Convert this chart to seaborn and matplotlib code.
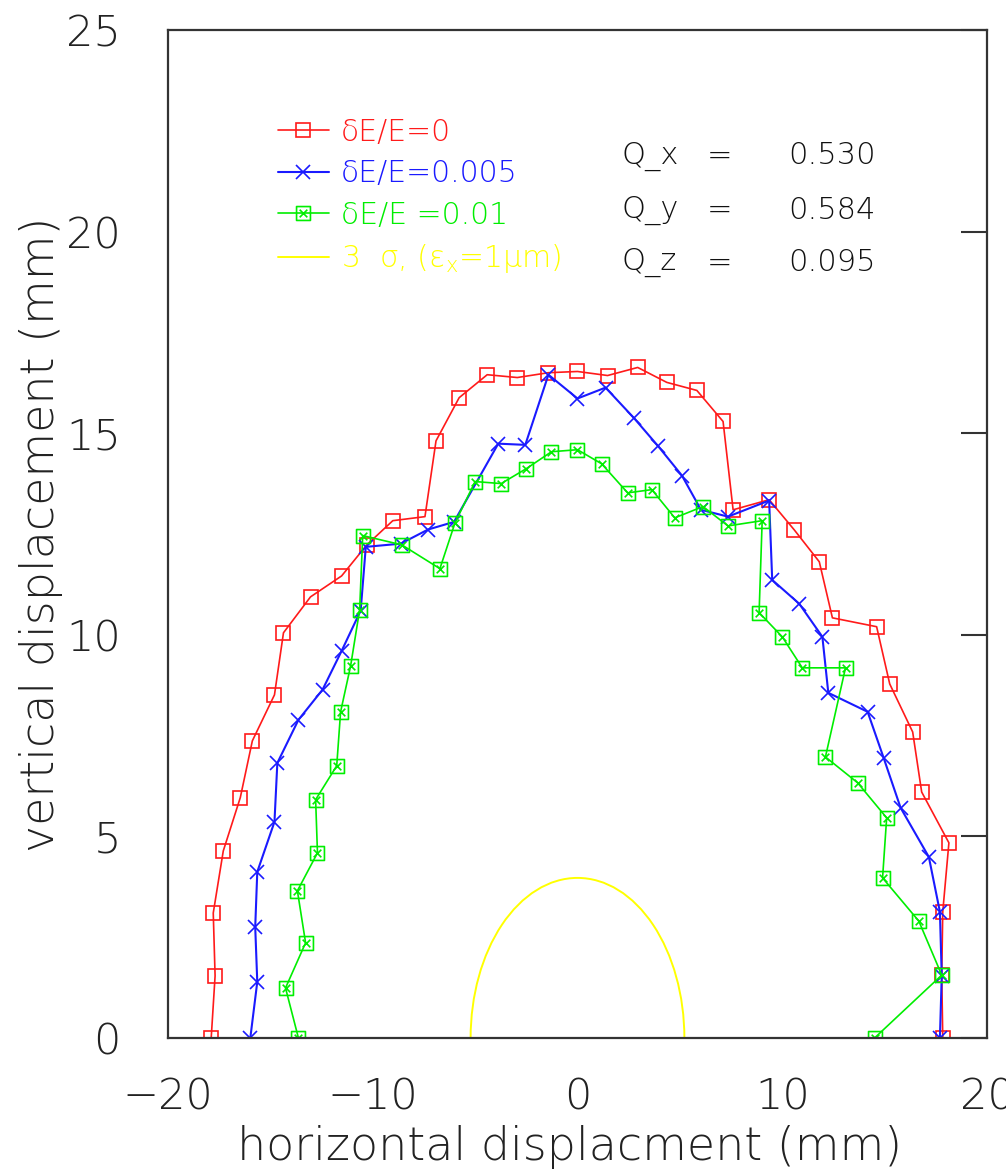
import numpy as np
import pandas as pd
import matplotlib
matplotlib.use("Agg")
import matplotlib.pyplot as plt
import seaborn as sns
from matplotlib.path import Path
from matplotlib.patches import Arc
from matplotlib.lines import Line2D

# ---------------- data (mm) ----------------
red_x = [-17.89, -17.70, -17.79, -17.30, -16.47, -15.88, -14.80, -14.36, -13.04, -11.52,
         -10.29, -9.02, -7.45, -6.91, -5.78, -4.41, -2.94, -1.42, 0.00, 1.47,
         2.94, 4.36, 5.83, 7.11, 7.60, 9.36, 10.59, 11.81, 12.45, 14.61,
         15.25, 16.37, 16.81, 18.14, 17.84, 17.79, 17.84]
red_y = [0.00, 1.54, 3.10, 4.64, 5.96, 7.37, 8.51, 10.05, 10.94, 11.46,
         12.23, 12.83, 12.93, 14.81, 15.88, 16.45, 16.38, 16.50, 16.53, 16.43,
         16.63, 16.26, 16.06, 15.29, 13.10, 13.35, 12.60, 11.81, 10.42, 10.20,
         8.78, 7.59, 6.10, 4.84, 3.13, 1.56, 0.00]

blue_x = [-15.98, -15.64, -15.74, -15.64, -14.80, -14.66, -13.63, -12.45, -11.52, -10.59,
          -10.34, -8.63, -7.30, -6.03, -3.87, -2.55, -1.42, 0.00, 1.37, 2.75,
          3.92, 5.10, 6.03, 7.35, 9.36, 9.51, 10.83, 11.96, 12.25, 14.17,
          14.95, 15.78, 17.16, 17.70, 17.79, 17.70]
blue_y = [0.00, 1.39, 2.75, 4.12, 5.36, 6.82, 7.89, 8.64, 9.60, 10.60,
          12.18, 12.26, 12.61, 12.80, 14.74, 14.71, 16.45, 15.86, 16.13, 15.38,
          14.69, 13.95, 13.10, 12.93, 13.33, 11.36, 10.77, 9.95, 8.56, 8.09,
          6.95, 5.71, 4.49, 3.13, 1.54, 0.00]

green_x = [-13.63, -14.26, -13.28, -13.68, -12.70, -12.79, -11.76, -11.57, -11.08, -10.64,
           -10.49, -8.58, -6.72, -5.98, -5.00, -3.73, -2.50, -1.27, 0.00, 1.18,
           2.45, 3.63, 4.75, 6.13, 7.35, 9.02, 8.87, 10.00, 10.98, 13.09,
           12.11, 13.68, 15.10, 14.90, 16.67, 17.79, 14.51]
green_y = [0.00, 1.24, 2.36, 3.65, 4.59, 5.91, 6.75, 8.09, 9.23, 10.62,
           12.46, 12.23, 11.64, 12.78, 13.80, 13.75, 14.12, 14.54, 14.59, 14.24,
           13.52, 13.60, 12.90, 13.18, 12.70, 12.83, 10.55, 9.95, 9.18, 9.18,
           6.97, 6.33, 5.46, 3.97, 2.90, 1.56, 0.00]

# 3 sigma beam envelope (semi-axes, mm)
sigma3_x = 5.22
sigma3_y = 3.97

labels = ["δE/E=0", "δE/E=0.005", "δE/E =0.01", r"3  σ, (ε$_{\mathregular{x}}$=1μm)"]
tune_names = ["Q_x", "Q_y", "Q_z"]
tune_values = ["0.530", "0.584", "0.095"]

x_ticks = [-20, -10, 0, 10, 20]
y_ticks = [0, 5, 10, 15, 20, 25]

# ---------------- style ----------------
sns.set_theme(style="white")
plt.rcParams["font.family"] = ["DejaVu Sans"]
plt.rcParams["font.weight"] = "light"
plt.rcParams["axes.labelweight"] = "light"
plt.rcParams["axes.unicode_minus"] = True

RED = "#ff1a1a"
BLUE = "#1a1aff"
GREEN = "#00ee00"
YELLOW = "#ffff00"
AXC = "#333333"
TXT = "#222222"

boxx = Path([(-1, -1), (1, -1), (1, 1), (-1, 1), (-1, -1),
             (-0.55, -0.55), (0.55, 0.55), (-0.55, 0.55), (0.55, -0.55)],
            [Path.MOVETO, Path.LINETO, Path.LINETO, Path.LINETO, Path.CLOSEPOLY,
             Path.MOVETO, Path.LINETO, Path.MOVETO, Path.LINETO])

fig = plt.figure(figsize=(10.06, 11.71), dpi=100)
ax = fig.add_axes([0.1670, 0.1136, 0.8141, 0.8608])

series = [
    (red_x, red_y, RED, "s", 1.2, 10),
    (blue_x, blue_y, BLUE, "x", 1.5, 10),
    (green_x, green_y, GREEN, boxx, 1.2, 10),
]
handles = []
for (xs, ys, c, m, lw, ms), lab in zip(series, labels[:3]):
    df = pd.DataFrame({"x": xs, "y": ys})
    sns.lineplot(data=df, x="x", y="y", sort=False, estimator=None, ax=ax,
                 color=c, linewidth=lw, marker=m, markersize=ms,
                 markerfacecolor="none", markeredgecolor=c, markeredgewidth=1.2)
    handles.append(Line2D([], [], color=c, linewidth=lw, marker=m, markersize=ms,
                          markerfacecolor="none", markeredgecolor=c, markeredgewidth=1.2))

arc = Arc((0, 0), 2 * sigma3_x, 2 * sigma3_y, theta1=0, theta2=180,
          color=YELLOW, linewidth=1.4)
ax.add_patch(arc)
handles.append(Line2D([], [], color=YELLOW, linewidth=1.4))

ax.set_xlim(-20, 20)
ax.set_ylim(0, 25)
ax.set_xticks(x_ticks)
ax.set_yticks(y_ticks)
ax.tick_params(axis="both", which="major", direction="in", length=19, width=1.5,
               color=AXC, labelsize=31, labelcolor=TXT,
               top=False, right=True)
ax.tick_params(axis="x", pad=28)
ax.tick_params(axis="y", pad=34)
for s in ax.spines.values():
    s.set_color(AXC)
    s.set_linewidth(1.6)
    s.set_visible(True)

ax.set_xlabel("horizontal displacment (mm)", fontsize=33, color=TXT, fontweight="light")
ax.set_ylabel("vertical displacement (mm)", fontsize=33, color=TXT, fontweight="light")
ax.xaxis.set_label_coords(0.49, -0.086)
ax.yaxis.set_label_coords(-0.128, 0.5)

leg = ax.legend(handles, labels, loc="upper left", bbox_to_anchor=(0.134, 0.913),
                frameon=False, fontsize=21.5, handlelength=1.72, handletextpad=0.4,
                labelspacing=0.42, borderaxespad=0, borderpad=0,
                labelcolor=[RED, BLUE, GREEN, YELLOW])

row_y = [0.875, 0.821, 0.769]
for name, val, yy in zip(tune_names, tune_values, row_y):
    ax.text(0.554, yy, name, transform=ax.transAxes, fontsize=22, va="center", ha="left", color="#111111")
    ax.text(0.658, yy, "=", transform=ax.transAxes, fontsize=22, va="center", ha="left", color="#111111")
    ax.text(0.757, yy, val, transform=ax.transAxes, fontsize=22, va="center", ha="left", color="#111111")

fig.savefig("out.png", dpi=100)
